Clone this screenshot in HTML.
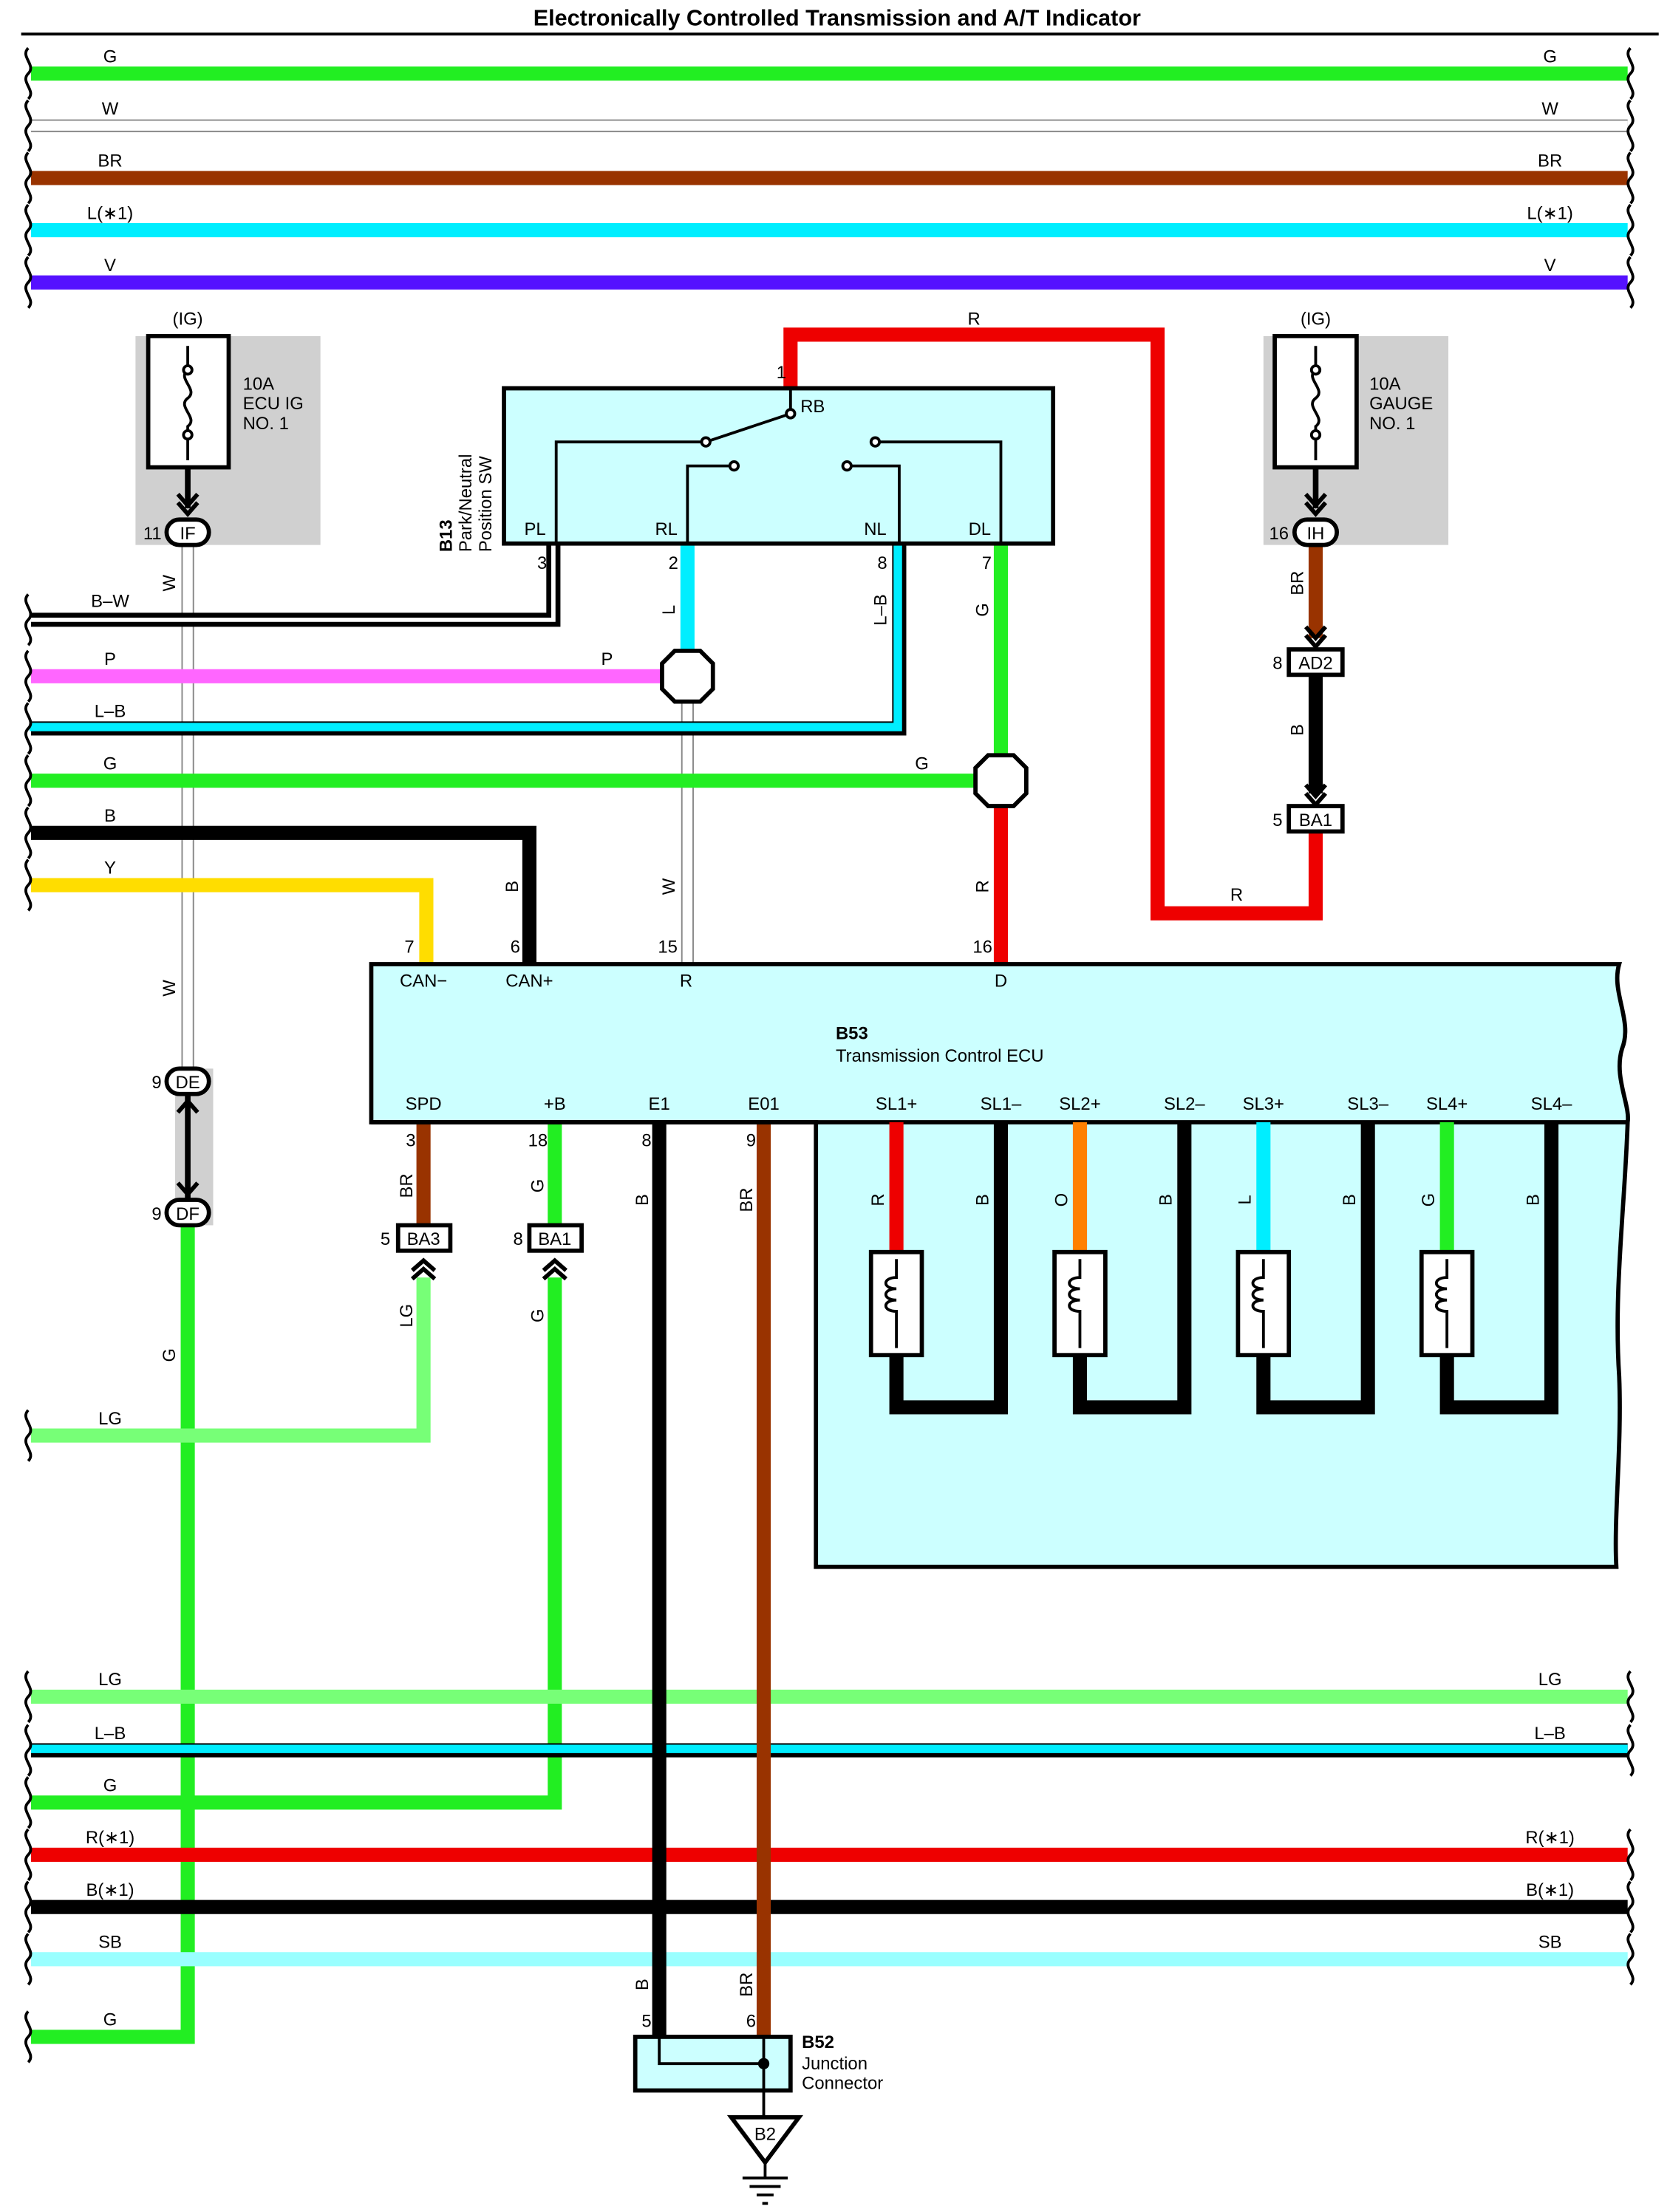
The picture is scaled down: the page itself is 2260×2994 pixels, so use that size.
<!DOCTYPE html>
<html><head><meta charset="utf-8"><style>
html,body{margin:0;padding:0;background:#fff}
svg{display:block}
text{font-family:"Liberation Sans",Arial,sans-serif;font-size:12.5px;fill:#000}
</style></head><body>
<svg width="2260" height="2994" viewBox="0 0 1183 1567" xmlns="http://www.w3.org/2000/svg">
<defs>
<g id="wv"><path d="M0,-18 c-6,6 6,12 0,18 c-6,6 6,12 0,18" fill="none" stroke="#000" stroke-width="2"/></g>
</defs>
<text x="593" y="18" text-anchor="middle" style="font-weight:bold;font-size:16px">Electronically Controlled Transmission and A/T Indicator</text>
<line x1="15" y1="24" x2="1175" y2="24" stroke="#000" stroke-width="2"/>

<g stroke-width="10" fill="none">
<line x1="22" y1="52" x2="1153" y2="52" stroke="#22ee22"/>
<line x1="22" y1="89" x2="1153" y2="89" stroke="#888" stroke-width="9"/>
<line x1="22" y1="89" x2="1153" y2="89" stroke="#fff" stroke-width="7"/>
<line x1="22" y1="126" x2="1153" y2="126" stroke="#993300"/>
<line x1="22" y1="163" x2="1153" y2="163" stroke="#00eeff"/>
<line x1="22" y1="200" x2="1153" y2="200" stroke="#5511ff"/>
</g>
<g>
<use href="#wv" x="20" y="52"/><use href="#wv" x="1155" y="52"/>
<use href="#wv" x="20" y="89"/><use href="#wv" x="1155" y="89"/>
<use href="#wv" x="20" y="126"/><use href="#wv" x="1155" y="126"/>
<use href="#wv" x="20" y="163"/><use href="#wv" x="1155" y="163"/>
<use href="#wv" x="20" y="200"/><use href="#wv" x="1155" y="200"/>
</g>
<g text-anchor="middle">
<text x="78" y="44">G</text><text x="1098" y="44">G</text>
<text x="78" y="81">W</text><text x="1098" y="81">W</text>
<text x="78" y="118">BR</text><text x="1098" y="118">BR</text>
<text x="78" y="155">L(∗1)</text><text x="1098" y="155">L(∗1)</text>
<text x="78" y="192">V</text><text x="1098" y="192">V</text>
</g>

<rect x="96" y="238" width="131" height="148" fill="#d0d0d0"/>
<rect x="105" y="238" width="57" height="93" fill="#fff" stroke="#000" stroke-width="3"/>
<path d="M133,245 V262 c-8,6 8,14 0,20 c-8,6 8,14 0,20 V326" fill="none" stroke="#000" stroke-width="2"/>
<circle cx="133" cy="262" r="3" fill="#fff" stroke="#000" stroke-width="2"/><circle cx="133" cy="308" r="3" fill="#fff" stroke="#000" stroke-width="2"/>
<text x="133" y="230" text-anchor="middle">(IG)</text>
<text x="172" y="276">10A</text><text x="172" y="290">ECU IG</text><text x="172" y="304">NO. 1</text>
<rect x="895" y="238" width="131" height="148" fill="#d0d0d0"/>
<rect x="903" y="238" width="58" height="93" fill="#fff" stroke="#000" stroke-width="3"/>
<path d="M932,245 V262 c-8,6 8,14 0,20 c-8,6 8,14 0,20 V326" fill="none" stroke="#000" stroke-width="2"/>
<circle cx="932" cy="262" r="3" fill="#fff" stroke="#000" stroke-width="2"/><circle cx="932" cy="308" r="3" fill="#fff" stroke="#000" stroke-width="2"/>
<text x="932" y="230" text-anchor="middle">(IG)</text>
<text x="970" y="276">10A</text><text x="970" y="290">GAUGE</text><text x="970" y="304">NO. 1</text>
<rect x="124" y="757" width="27" height="111" fill="#d0d0d0"/>

<g fill="none" stroke-linejoin="miter">
<line x1="133" y1="331" x2="133" y2="360" stroke="#000" stroke-width="4"/>
<line x1="133" y1="386" x2="133" y2="757" stroke="#888" stroke-width="9"/>
<line x1="133" y1="386" x2="133" y2="757" stroke="#fff" stroke-width="7"/>
<line x1="133" y1="775" x2="133" y2="850" stroke="#000" stroke-width="4"/>
<path d="M133,868 V1443 H22" stroke="#22ee22" stroke-width="10"/>
<line x1="932" y1="331" x2="932" y2="360" stroke="#000" stroke-width="4"/>
<line x1="932" y1="386" x2="932" y2="452" stroke="#993300" stroke-width="10"/>
<line x1="932" y1="478" x2="932" y2="562" stroke="#000" stroke-width="10"/>
<path d="M932,589 V647 H820 V237 H560 V275" stroke="#ee0000" stroke-width="10"/>
<path d="M392,385 V439 H22" stroke="#000" stroke-width="10"/>
<path d="M392,385 V439 H22" stroke="#fff" stroke-width="3"/>
<line x1="487" y1="385" x2="487" y2="462" stroke="#00eeff" stroke-width="10"/>
<line x1="22" y1="479" x2="470" y2="479" stroke="#ff66ff" stroke-width="10"/>
<line x1="487" y1="497" x2="487" y2="683" stroke="#888" stroke-width="9"/>
<line x1="487" y1="497" x2="487" y2="683" stroke="#fff" stroke-width="7"/>
<path d="M637,385 V516 H22" stroke="#000" stroke-width="10"/>
<path d="M637,385 V516 H22" stroke="#00eeff" stroke-width="6" transform="translate(-1,-1)"/>
<line x1="709" y1="385" x2="709" y2="537" stroke="#22ee22" stroke-width="10"/>
<line x1="22" y1="553" x2="692" y2="553" stroke="#22ee22" stroke-width="10"/>
<line x1="709" y1="570" x2="709" y2="683" stroke="#ee0000" stroke-width="10"/>
<path d="M22,590 H375 V683" stroke="#000" stroke-width="10"/>
<path d="M22,627 H302 V683" stroke="#ffdd00" stroke-width="10"/>
<line x1="300" y1="795" x2="300" y2="868" stroke="#993300" stroke-width="10"/>
<path d="M300,905 V1017 H22" stroke="#77ff77" stroke-width="10"/>
<line x1="393" y1="795" x2="393" y2="868" stroke="#22ee22" stroke-width="10"/>
<path d="M393,905 V1277 H22" stroke="#22ee22" stroke-width="10"/>
<line x1="22" y1="1202" x2="1153" y2="1202" stroke="#77ff77" stroke-width="10"/>
<line x1="22" y1="1240" x2="1153" y2="1240" stroke="#000" stroke-width="10"/>
<line x1="22" y1="1239" x2="1153" y2="1239" stroke="#00eeff" stroke-width="6"/>
<line x1="22" y1="1314" x2="1153" y2="1314" stroke="#ee0000" stroke-width="10"/>
<line x1="22" y1="1351" x2="1153" y2="1351" stroke="#000" stroke-width="10"/>
<line x1="22" y1="1388" x2="1153" y2="1388" stroke="#99ffff" stroke-width="10"/>
<line x1="467" y1="795" x2="467" y2="1443" stroke="#000" stroke-width="10"/>
<line x1="541" y1="795" x2="541" y2="1443" stroke="#993300" stroke-width="10"/>
</g>
<g>
<use href="#wv" x="20" y="439"/><use href="#wv" x="20" y="479"/><use href="#wv" x="20" y="516"/>
<use href="#wv" x="20" y="553"/><use href="#wv" x="20" y="590"/><use href="#wv" x="20" y="627"/>
<use href="#wv" x="20" y="1017"/>
<use href="#wv" x="20" y="1202"/><use href="#wv" x="1155" y="1202"/>
<use href="#wv" x="20" y="1240"/><use href="#wv" x="1155" y="1240"/>
<use href="#wv" x="20" y="1277"/>
<use href="#wv" x="20" y="1314"/><use href="#wv" x="1155" y="1314"/>
<use href="#wv" x="20" y="1351"/><use href="#wv" x="1155" y="1351"/>
<use href="#wv" x="20" y="1388"/><use href="#wv" x="1155" y="1388"/>
<use href="#wv" x="20" y="1443"/>
</g>
<g text-anchor="middle">
<text x="78" y="430">B–W</text><text x="78" y="471">P</text><text x="430" y="471">P</text>
<text x="78" y="508">L–B</text><text x="78" y="545">G</text><text x="653" y="545">G</text>
<text x="78" y="582">B</text><text x="78" y="619">Y</text><text x="876" y="638">R</text><text x="690" y="230">R</text>
<text x="78" y="1009">LG</text>
<text x="78" y="1194">LG</text><text x="1098" y="1194">LG</text>
<text x="78" y="1232">L–B</text><text x="1098" y="1232">L–B</text>
<text x="78" y="1269">G</text>
<text x="78" y="1306">R(∗1)</text><text x="1098" y="1306">R(∗1)</text>
<text x="78" y="1343">B(∗1)</text><text x="1098" y="1343">B(∗1)</text>
<text x="78" y="1380">SB</text><text x="1098" y="1380">SB</text>
<text x="78" y="1435">G</text>
</g>
<g text-anchor="middle">
<text transform="translate(124,413) rotate(-90)">W</text>
<text transform="translate(124,700) rotate(-90)">W</text>
<text transform="translate(124,960) rotate(-90)">G</text>
<text transform="translate(478,432) rotate(-90)">L</text>
<text transform="translate(628,432) rotate(-90)">L–B</text>
<text transform="translate(700,432) rotate(-90)">G</text>
<text transform="translate(923,413) rotate(-90)">BR</text>
<text transform="translate(923,517) rotate(-90)">B</text>
<text transform="translate(367,628) rotate(-90)">B</text>
<text transform="translate(478,628) rotate(-90)">W</text>
<text transform="translate(700,628) rotate(-90)">R</text>
<text transform="translate(292,840) rotate(-90)">BR</text>
<text transform="translate(385,840) rotate(-90)">G</text>
<text transform="translate(292,932) rotate(-90)">LG</text>
<text transform="translate(385,932) rotate(-90)">G</text>
<text transform="translate(459,850) rotate(-90)">B</text>
<text transform="translate(533,850) rotate(-90)">BR</text>
<text transform="translate(459,1406) rotate(-90)">B</text>
<text transform="translate(533,1406) rotate(-90)">BR</text>
</g>

<rect x="357" y="275" width="389" height="110" fill="#ccffff" stroke="#000" stroke-width="3"/>
<g fill="none" stroke="#000" stroke-width="2">
<path d="M394,385 V313 H500"/><path d="M500,313 L560,293"/>
<path d="M487,385 V330 H520"/><path d="M637,385 V330 H600"/>
<path d="M709,385 V313 H620"/>
<line x1="560" y1="275" x2="560" y2="293"/>
</g>
<g fill="#fff" stroke="#000" stroke-width="2">
<circle cx="560" cy="293" r="3"/><circle cx="500" cy="313" r="3"/>
<circle cx="520" cy="330" r="3"/><circle cx="600" cy="330" r="3"/><circle cx="620" cy="313" r="3"/>
</g>
<text x="567" y="292">RB</text><text x="550" y="268">1</text>
<g text-anchor="middle">
<text x="379" y="379">PL</text><text x="472" y="379">RL</text><text x="620" y="379">NL</text><text x="694" y="379">DL</text>
<text x="384" y="403">3</text><text x="477" y="403">2</text><text x="625" y="403">8</text><text x="699" y="403">7</text>
</g>
<text transform="translate(320,391) rotate(-90)" style="font-weight:bold">B13</text>
<text transform="translate(334,391) rotate(-90)">Park/Neutral</text>
<text transform="translate(348,391) rotate(-90)">Position SW</text>

<polygon points="478,461 496,461 505,470 505,488 496,497 478,497 469,488 469,470" fill="#fff" stroke="#000" stroke-width="3"/>
<polygon points="700,535 718,535 727,544 727,562 718,571 700,571 691,562 691,544" fill="#fff" stroke="#000" stroke-width="3"/>

<g stroke="#000" stroke-width="3" fill="none">
<path d="M126,350 L133,358 L140,350 M126,356 L133,364 L140,356"/>
<path d="M925,350 L932,358 L939,350 M925,356 L932,364 L939,356"/>
<path d="M925,444 L932,452 L939,444 M925,450 L932,458 L939,450"/>
<path d="M925,556 L932,564 L939,556 M925,562 L932,570 L939,562"/>
<path d="M126,788 L133,780 L140,788 M126,838 L133,846 L140,838"/>
<path d="M292,900 L300,893 L308,900 M292,906 L300,899 L308,906"/>
<path d="M385,900 L393,893 L401,900 M385,906 L393,899 L401,906"/>
</g>
<g fill="#fff" stroke="#000" stroke-width="3">
<rect x="118" y="368" width="30" height="18" rx="9"/>
<rect x="917" y="368" width="30" height="18" rx="9"/>
<rect x="118" y="757" width="30" height="18" rx="9"/>
<rect x="118" y="850" width="30" height="18" rx="9"/>
<rect x="913" y="460" width="38" height="18"/>
<rect x="913" y="571" width="38" height="18"/>
<rect x="282" y="868" width="37" height="18"/>
<rect x="375" y="868" width="37" height="18"/>
</g>
<g text-anchor="middle">
<text x="133" y="382">IF</text><text x="108" y="382">11</text>
<text x="932" y="382">IH</text><text x="906" y="382">16</text>
<text x="133" y="771">DE</text><text x="111" y="771">9</text>
<text x="133" y="864">DF</text><text x="111" y="864">9</text>
<text x="932" y="474">AD2</text><text x="905" y="474">8</text>
<text x="932" y="585">BA1</text><text x="905" y="585">5</text>
<text x="300" y="882">BA3</text><text x="273" y="882">5</text>
<text x="393" y="882">BA1</text><text x="367" y="882">8</text>
</g>

<path d="M263,683 H1147 c-6,20 10,40 2,60 c-6,20 6,40 4,52 c-2,60 -10,120 -6,180 c2,50 -4,100 -2,135 H578 V795 H263 Z" fill="#ccffff" stroke="#000" stroke-width="3"/>
<line x1="263" y1="795" x2="1153" y2="795" stroke="#000" stroke-width="3"/>
<g text-anchor="middle">
<text x="290" y="675">7</text><text x="365" y="675">6</text><text x="473" y="675">15</text><text x="696" y="675">16</text>
<text x="300" y="699">CAN−</text><text x="375" y="699">CAN+</text><text x="486" y="699">R</text><text x="709" y="699">D</text>
<text x="300" y="786">SPD</text><text x="393" y="786">+B</text><text x="467" y="786">E1</text><text x="541" y="786">E01</text>
<text x="635" y="786">SL1+</text><text x="709" y="786">SL1–</text><text x="765" y="786">SL2+</text><text x="839" y="786">SL2–</text>
<text x="895" y="786">SL3+</text><text x="969" y="786">SL3–</text><text x="1025" y="786">SL4+</text><text x="1099" y="786">SL4–</text>
<text x="291" y="812">3</text><text x="381" y="812">18</text><text x="458" y="812">8</text><text x="532" y="812">9</text>
<text x="458" y="1436">5</text><text x="532" y="1436">6</text>
</g>
<text x="592" y="736" style="font-weight:bold">B53</text>
<text x="592" y="752">Transmission Control ECU</text>

<g>
<path d="M635,960 V997 H709 V795" fill="none" stroke="#000" stroke-width="10"/>
<line x1="635" y1="795" x2="635" y2="887" stroke="#ee0000" stroke-width="10"/>
<path d="M765,960 V997 H839 V795" fill="none" stroke="#000" stroke-width="10"/>
<line x1="765" y1="795" x2="765" y2="887" stroke="#ff8000" stroke-width="10"/>
<path d="M895,960 V997 H969 V795" fill="none" stroke="#000" stroke-width="10"/>
<line x1="895" y1="795" x2="895" y2="887" stroke="#00eeff" stroke-width="10"/>
<path d="M1025,960 V997 H1099 V795" fill="none" stroke="#000" stroke-width="10"/>
<line x1="1025" y1="795" x2="1025" y2="887" stroke="#22ee22" stroke-width="10"/>
</g>
<g fill="#fff" stroke="#000" stroke-width="3">
<rect x="617" y="887" width="36" height="73"/><rect x="747" y="887" width="36" height="73"/>
<rect x="877" y="887" width="36" height="73"/><rect x="1007" y="887" width="36" height="73"/>
</g>
<g fill="none" stroke="#000" stroke-width="2">
<path d="M635,892 V905 c-10,0 -10,8 0,8 c-10,0 -10,8 0,8 c-10,0 -10,8 0,8 V955"/>
<path d="M765,892 V905 c-10,0 -10,8 0,8 c-10,0 -10,8 0,8 c-10,0 -10,8 0,8 V955"/>
<path d="M895,892 V905 c-10,0 -10,8 0,8 c-10,0 -10,8 0,8 c-10,0 -10,8 0,8 V955"/>
<path d="M1025,892 V905 c-10,0 -10,8 0,8 c-10,0 -10,8 0,8 c-10,0 -10,8 0,8 V955"/>
</g>
<g text-anchor="middle">
<text transform="translate(626,850) rotate(-90)">R</text><text transform="translate(700,850) rotate(-90)">B</text>
<text transform="translate(756,850) rotate(-90)">O</text><text transform="translate(830,850) rotate(-90)">B</text>
<text transform="translate(886,850) rotate(-90)">L</text><text transform="translate(960,850) rotate(-90)">B</text>
<text transform="translate(1016,850) rotate(-90)">G</text><text transform="translate(1090,850) rotate(-90)">B</text>
</g>

<rect x="450" y="1443" width="110" height="38" fill="#ccffff" stroke="#000" stroke-width="3"/>
<path d="M467,1443 V1462 H541 M541,1443 V1500" fill="none" stroke="#000" stroke-width="2"/>
<circle cx="541" cy="1462" r="4" fill="#000"/>
<text x="568" y="1451" style="font-weight:bold">B52</text>
<text x="568" y="1466">Junction</text>
<text x="568" y="1480">Connector</text>
<polygon points="518,1500 566,1500 542,1532" fill="#fff" stroke="#000" stroke-width="3"/>
<text x="542" y="1516" text-anchor="middle">B2</text>
<g stroke="#000" stroke-width="2">
<line x1="542" y1="1532" x2="542" y2="1543"/>
<line x1="526" y1="1543" x2="558" y2="1543"/>
<line x1="531" y1="1549" x2="553" y2="1549"/>
<line x1="536" y1="1555" x2="548" y2="1555"/>
<line x1="540" y1="1561" x2="544" y2="1561"/>
</g>
</svg>
</body></html>
